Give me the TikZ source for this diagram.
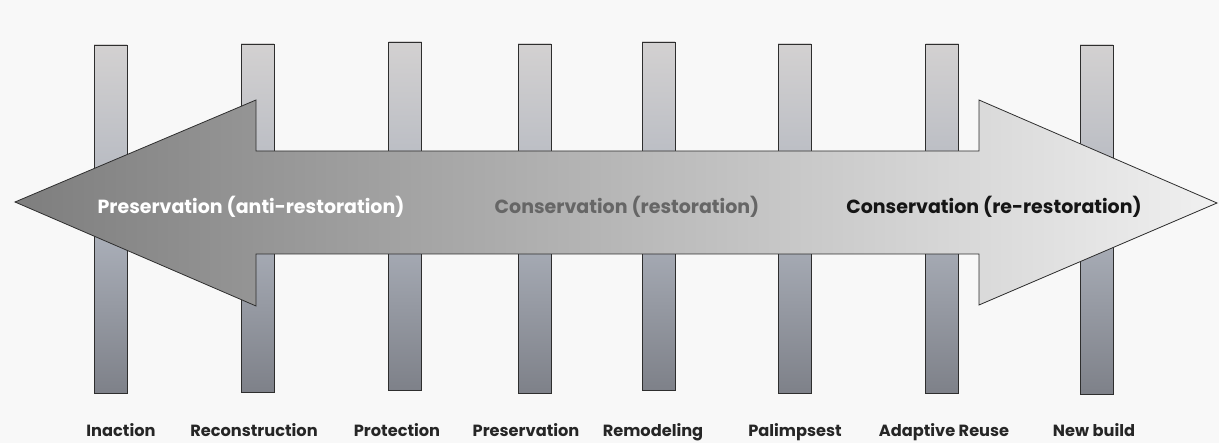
\documentclass[tikz,border=0pt]{standalone}
\usepackage{fontspec}
\setmainfont{Poppins}
\definecolor{bgc}{HTML}{F8F8F8}
\definecolor{bartop}{HTML}{D3D1D1}
\definecolor{barmid}{HTML}{AEB3BD}
\definecolor{barbot}{HTML}{7E8189}
\definecolor{edgec}{HTML}{2E2E2E}
\definecolor{arrL}{HTML}{7E7E7E}
\definecolor{arrR}{HTML}{F0F0F0}
\definecolor{midtext}{HTML}{666666}
\definecolor{rtext}{HTML}{151515}
\tikzset{
  bar/.style={draw=edgec, line width=0.9pt, minimum width=33pt, inner sep=0pt,
    top color=bartop, bottom color=barbot, middle color=barmid},
  arrowtext/.style={font=\fontsize{19}{22}\selectfont\bfseries, inner sep=0pt, anchor=base},
  lab/.style={font=\fontsize{16.2}{19}\selectfont\bfseries, text=black!85, inner sep=0pt, anchor=base},
}
\begin{document}
\begin{tikzpicture}[x=1pt,y=-1pt]
\fill[bgc] (0,0) rectangle (1219,443);
\useasboundingbox (0,0) rectangle (1219,443);
% bars
\node[bar, minimum height=348pt] (b1) at (110.5,219) {};
\node[bar, minimum height=348pt] (b2) at (257.5,218) {};
\node[bar, minimum height=348pt] (b3) at (405,216) {};
\node[bar, minimum height=349pt] (b4) at (534.5,218.5) {};
\node[bar, minimum height=348pt] (b5) at (658.5,216) {};
\node[bar, minimum height=349pt] (b6) at (794.5,218.5) {};
\node[bar, minimum height=349pt] (b7) at (942,218.5) {};
\node[bar, minimum height=349pt] (b8) at (1096.5,219.5) {};
% double arrow
\path[draw=edgec, line width=0.8pt, left color=arrL, right color=arrR]
  (15,202) -- (256,100) -- (256,151) -- (979,151) -- (979,100) -- (1217,203)
  -- (979,305) -- (979,254) -- (256,254) -- (256,306) -- cycle;
\node[arrowtext, text=white] (t1) at (251,214) {Preservation (anti-restoration)};
\node[arrowtext, text=midtext] (t2) at (627,214) {Conservation (restoration)};
\node[arrowtext, text=rtext] (t3) at (994,214) {Conservation (re-restoration)};
% labels
\node[lab] (l1) at (121,437) {Inaction};
\node[lab] (l2) at (254,437) {Reconstruction};
\node[lab] (l3) at (397,437) {Protection};
\node[lab] (l4) at (526,437) {Preservation};
\node[lab] (l5) at (653,437) {Remodeling};
\node[lab] (l6) at (795,437) {Palimpsest};
\node[lab] (l7) at (944,437) {Adaptive Reuse};
\node[lab] (l8) at (1094,437) {New build};
\end{tikzpicture}
\end{document}
